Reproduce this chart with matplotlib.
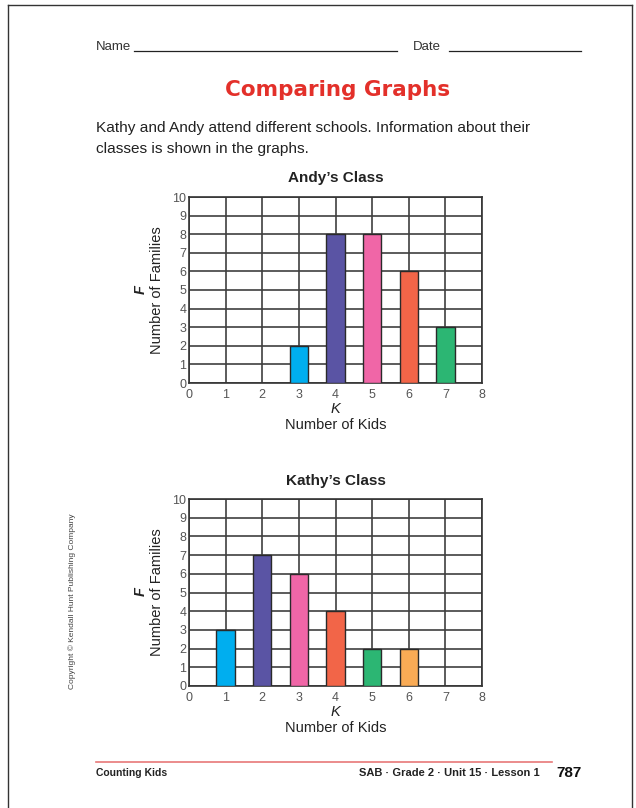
import matplotlib.pyplot as plt
from matplotlib.lines import Line2D

W, H = 636, 808

andy_x = [3, 4, 5, 6, 7]
andy_families = [2, 8, 8, 6, 3]
andy_colors = ['#00AEEF', '#5A54A4', '#F066A7', '#F26548', '#2CB673']
kathy_x = [1, 2, 3, 4, 5, 6]
kathy_families = [3, 7, 6, 4, 2, 2]
kathy_colors = ['#00AEEF', '#5A54A4', '#F066A7', '#F26548', '#2CB673', '#F9AB55']
x_ticks = list(range(0, 9))
y_ticks = list(range(0, 11))

FONT = ['Liberation Sans', 'DejaVu Sans']


def px(x, y):
    return x / W, 1 - y / H


def box(left, top, right, bottom):
    return [left / W, 1 - bottom / H, (right - left) / W, (bottom - top) / H]


def draw_chart(fig, rect, xs, vals, colors, title, title_y, center_y, k_y):
    ax = fig.add_axes(box(*rect))
    ax.bar(xs, vals, width=0.5, color=colors, edgecolor='#2a2a2a', linewidth=1, zorder=3)
    ax.set_xlim(0, 8)
    ax.set_ylim(0, 10)
    ax.set_xticks(x_ticks)
    ax.set_yticks(y_ticks)
    ax.grid(True, color='#3f3f3f', linewidth=1.2, zorder=0)
    ax.set_axisbelow(True)
    ax.tick_params(length=0, labelsize=9, labelcolor='#555555')
    ax.tick_params(axis='x', pad=4)
    ax.tick_params(axis='y', pad=2)
    for lab in ax.get_xticklabels() + ax.get_yticklabels():
        lab.set_family(FONT)
    for s in ax.spines.values():
        s.set_color('#333333')
        s.set_linewidth(1.2)
    cx = (rect[0] + rect[2]) / 2
    fig.text(*px(cx, title_y), title, ha='center', va='center', fontsize=11,
             fontweight='bold', family=FONT, color='#222222')
    fig.text(*px(cx, k_y), 'K', ha='center', va='center', fontsize=10.5,
             style='italic', family=FONT, color='#222222')
    fig.text(*px(cx, k_y + 16), 'Number of Kids', ha='center', va='center', fontsize=10.5,
             family=FONT, color='#222222')
    fig.text(*px(157, center_y), 'Number of Families', ha='center', va='center',
             rotation=90, fontsize=10.5, family=FONT, color='#222222')
    fig.text(*px(141, center_y), 'F', ha='center', va='center', rotation=90,
             fontsize=10.5, style='italic', fontweight='bold', family=FONT, color='#222222')
    return ax


fig = plt.figure(figsize=(W / 100, H / 100), dpi=100)
fig.patch.set_facecolor('white')

# page border
fig.add_artist(Line2D([8 / W, 8 / W], [0, 1 - 5 / H], transform=fig.transFigure,
                      color='#333333', lw=1))
fig.add_artist(Line2D([8 / W, 632 / W], [1 - 5 / H, 1 - 5 / H], transform=fig.transFigure,
                      color='#333333', lw=1))
fig.add_artist(Line2D([632 / W, 632 / W], [0, 1 - 5 / H], transform=fig.transFigure,
                      color='#333333', lw=1))

# header
fig.text(*px(96, 47), 'Name', ha='left', va='center', fontsize=9.5, family=FONT, color='#333333')
fig.add_artist(Line2D([134 / W, 397 / W], [1 - 51 / H] * 2, transform=fig.transFigure,
                      color='#222222', lw=0.9))
fig.text(*px(413, 47), 'Date', ha='left', va='center', fontsize=9.5, family=FONT, color='#333333')
fig.add_artist(Line2D([449 / W, 581 / W], [1 - 51 / H] * 2, transform=fig.transFigure,
                      color='#222222', lw=0.9))

fig.text(*px(338, 90), 'Comparing Graphs', ha='center', va='center', fontsize=15.5,
         fontweight='bold', family=['DejaVu Sans'], color='#E3302A')
fig.text(*px(96, 128), 'Kathy and Andy attend different schools. Information about their',
         ha='left', va='center', fontsize=11.1, family=FONT, color='#222222')
fig.text(*px(96, 149), 'classes is shown in the graphs.',
         ha='left', va='center', fontsize=11.1, family=FONT, color='#222222')

draw_chart(fig, (189, 197, 482, 383), andy_x, andy_families, andy_colors,
           'Andy\u2019s Class', 178, 290, 409)
draw_chart(fig, (189, 499, 482, 686), kathy_x, kathy_families, kathy_colors,
           'Kathy\u2019s Class', 481, 592, 712)

# copyright
fig.text(*px(72, 601), 'Copyright \u00a9 Kendall Hunt Publishing Company', ha='center',
         va='center', rotation=90, fontsize=6, family=FONT, color='#444444')

# footer
fig.add_artist(Line2D([96 / W, 552 / W], [1 - 762 / H] * 2, transform=fig.transFigure,
                      color='#E87878', lw=1.2))
fig.text(*px(96, 773), 'Counting Kids', ha='left', va='center', fontsize=7.5,
         fontweight='bold', family=FONT, color='#222222')
fig.text(*px(540, 773), 'SAB \u00b7 Grade 2 \u00b7 Unit 15 \u00b7 Lesson 1', ha='right',
         va='center', fontsize=8, fontweight='bold', family=FONT, color='#222222')
fig.text(*px(556, 773), '787', ha='left', va='center', fontsize=11,
         fontweight='bold', family=FONT, color='#111111')

fig.savefig('out.png', dpi=100)
